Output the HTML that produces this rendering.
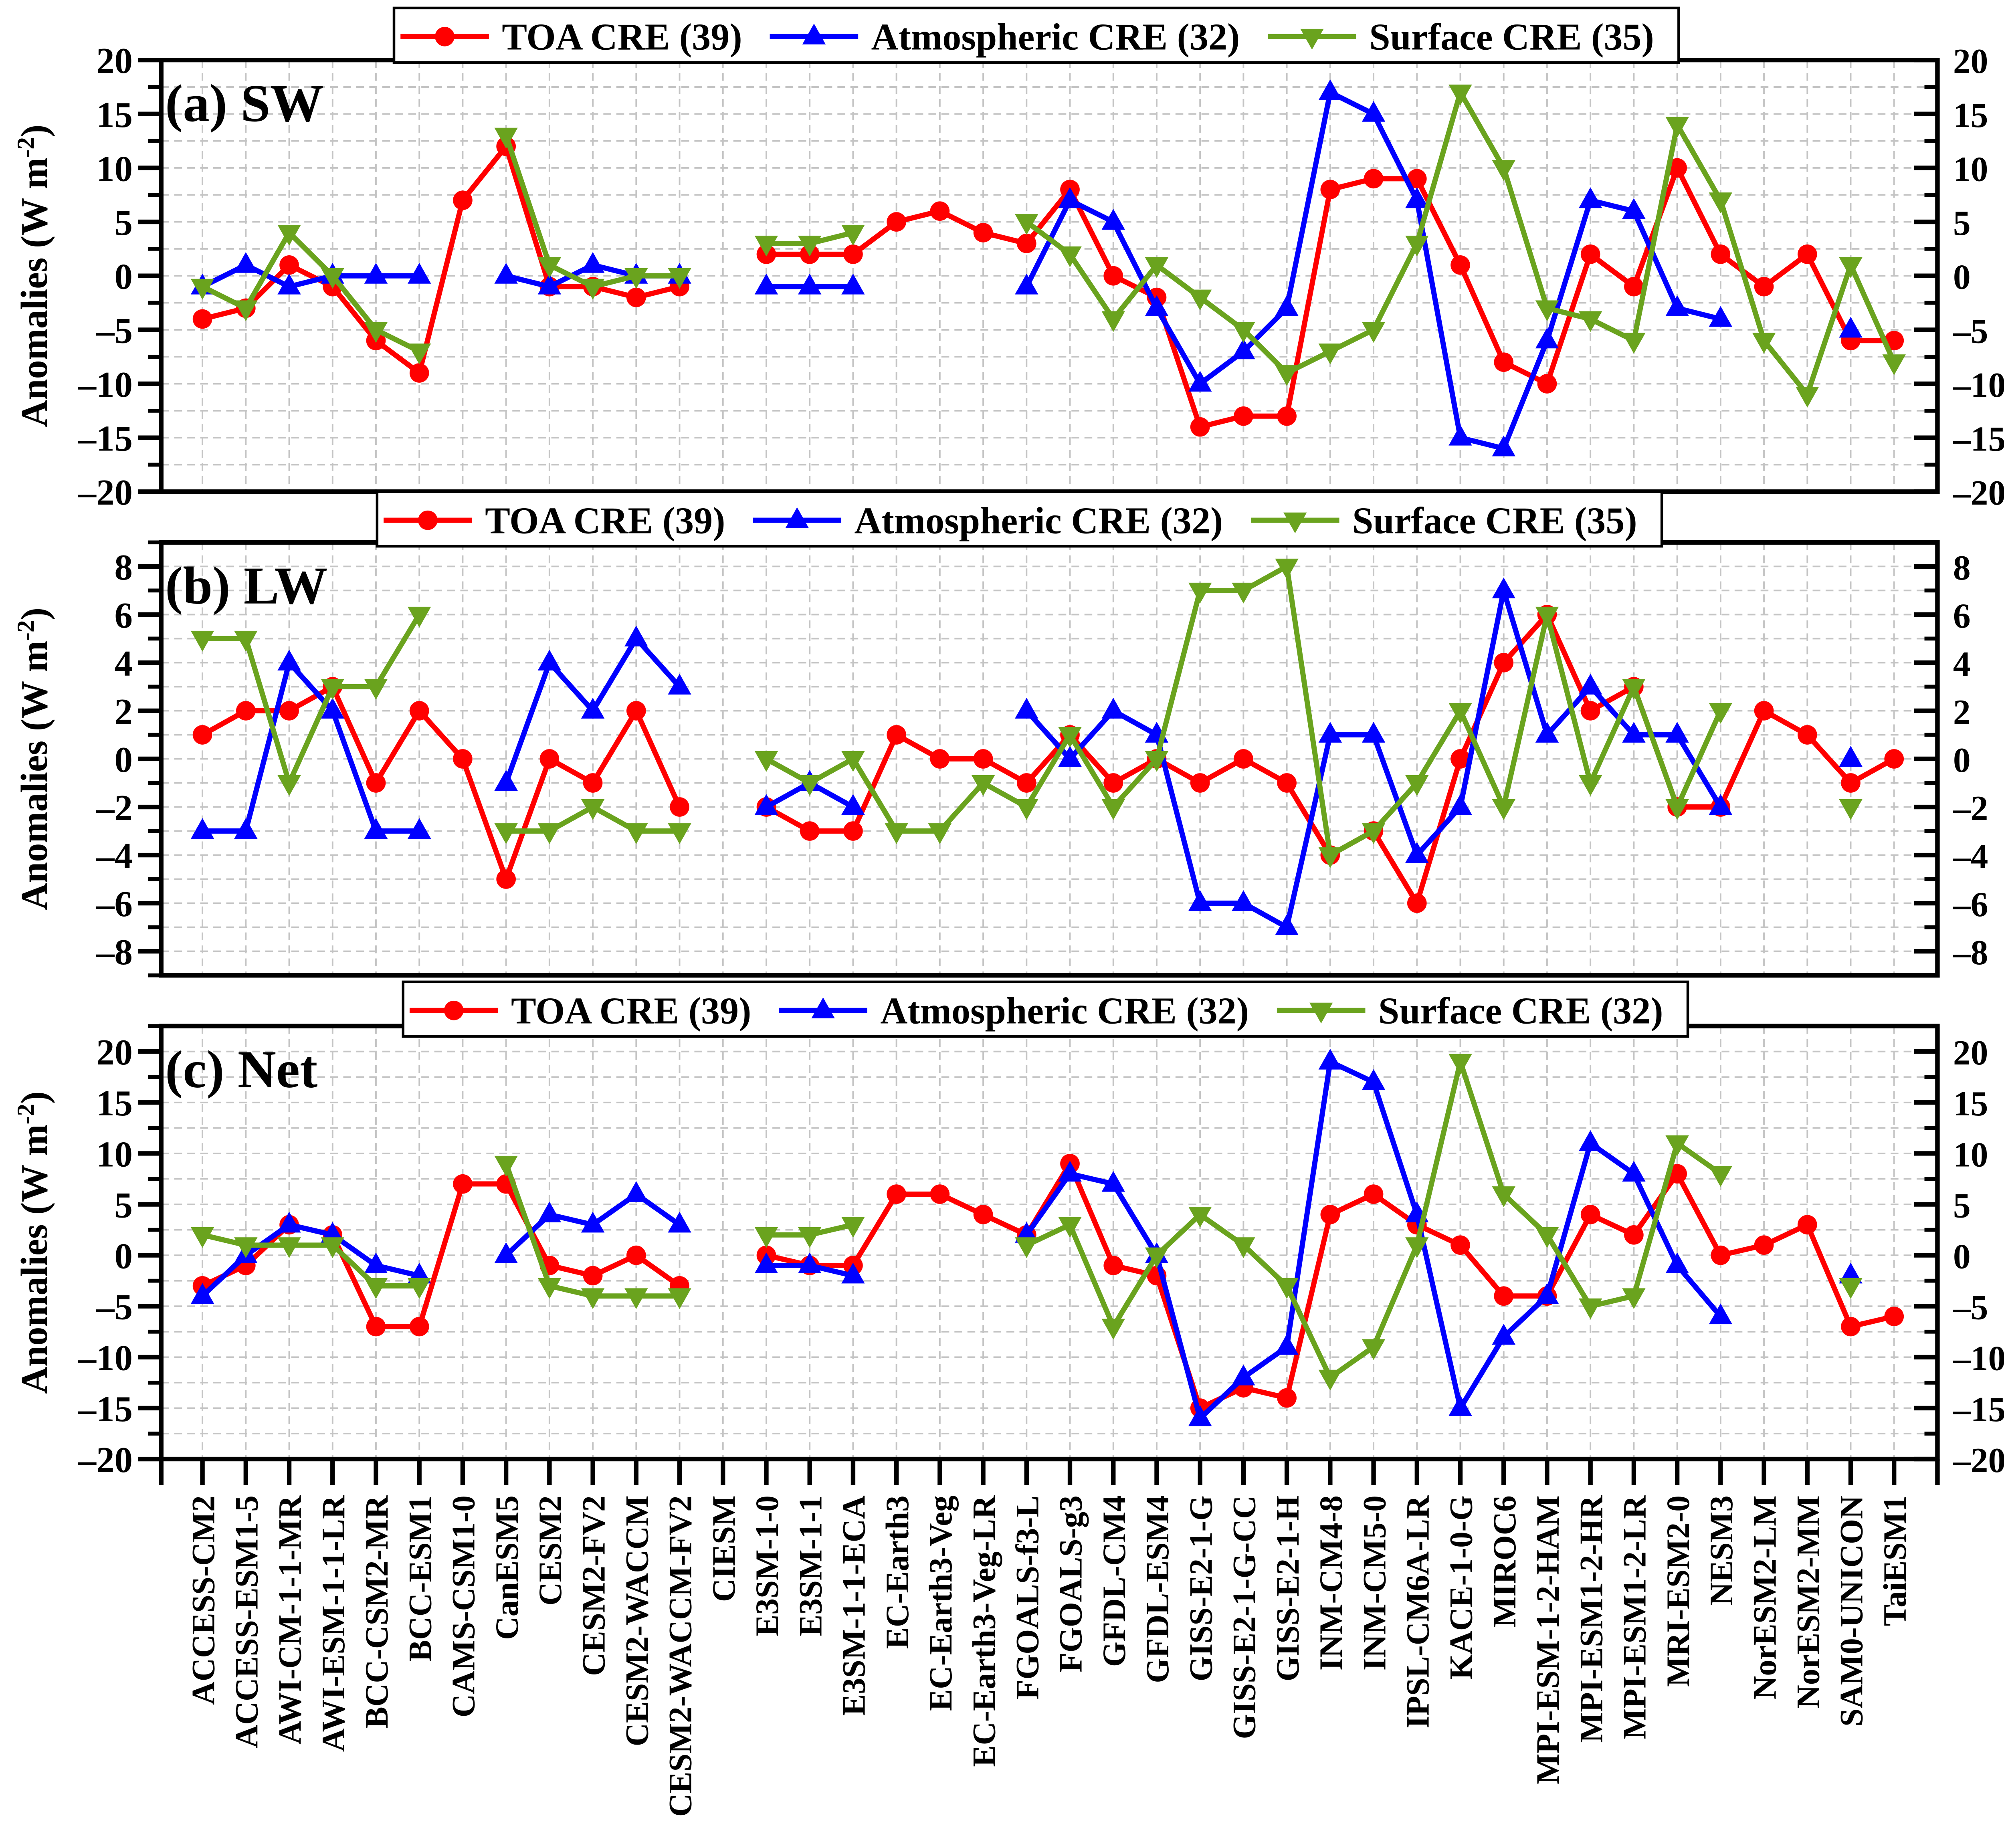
<!DOCTYPE html>
<html><head><meta charset="utf-8"><style>html,body{margin:0;padding:0;background:#fff;overflow:hidden}svg{display:block}svg text{font-family:"Liberation Serif","Times New Roman",serif;font-weight:bold}</style></head>
<body>
<svg id="chart" xmlns="http://www.w3.org/2000/svg" width="5087" height="4611" viewBox="0 0 1568 1421"></svg>
<script>
const models=["ACCESS-CM2","ACCESS-ESM1-5","AWI-CM-1-1-MR","AWI-ESM-1-1-LR","BCC-CSM2-MR","BCC-ESM1","CAMS-CSM1-0","CanESM5","CESM2","CESM2-FV2","CESM2-WACCM","CESM2-WACCM-FV2","CIESM","E3SM-1-0","E3SM-1-1","E3SM-1-1-ECA","EC-Earth3","EC-Earth3-Veg","EC-Earth3-Veg-LR","FGOALS-f3-L","FGOALS-g3","GFDL-CM4","GFDL-ESM4","GISS-E2-1-G","GISS-E2-1-G-CC","GISS-E2-1-H","INM-CM4-8","INM-CM5-0","IPSL-CM6A-LR","KACE-1-0-G","MIROC6","MPI-ESM-1-2-HAM","MPI-ESM1-2-HR","MPI-ESM1-2-LR","MRI-ESM2-0","NESM3","NorESM2-LM","NorESM2-MM","SAM0-UNICON","TaiESM1"];
const n=null;
const swToa=[-4,-3,1,-1,-6,-9,7,12,-1,-1,-2,-1,n,2,2,2,5,6,4,3,8,0,-2,-14,-13,-13,8,9,9,1,-8,-10,2,-1,10,2,-1,2,-6,-6];
const swAtm=[-1,1,-1,0,0,0,n,0,-1,1,0,0,n,-1,-1,-1,n,n,n,-1,7,5,-3,-10,-7,-3,17,15,7,-15,-16,-6,7,6,-3,-4,n,n,-5,n];
const swSfc=[-1,-3,4,0,-5,-7,n,13,1,-1,0,0,n,3,3,4,n,n,n,5,2,-4,1,-2,-5,-9,-7,-5,3,17,10,-3,-4,-6,14,7,-6,-11,1,-8];
const lwToa=[1,2,2,3,-1,2,0,-5,0,-1,2,-2,n,-2,-3,-3,1,0,0,-1,1,-1,0,-1,0,-1,-4,-3,-6,0,4,6,2,3,-2,-2,2,1,-1,0];
const lwAtm=[-3,-3,4,2,-3,-3,n,-1,4,2,5,3,n,-2,-1,-2,n,n,n,2,0,2,1,-6,-6,-7,1,1,-4,-2,7,1,3,1,1,-2,n,n,0,n];
const lwSfc=[5,5,-1,3,3,6,n,-3,-3,-2,-3,-3,n,0,-1,0,-3,-3,-1,-2,1,-2,0,7,7,8,-4,-3,-1,2,-2,6,-1,3,-2,2,n,n,-2,n];
const netToa=[-3,-1,3,2,-7,-7,7,7,-1,-2,0,-3,n,0,-1,-1,6,6,4,2,9,-1,-2,-15,-13,-14,4,6,3,1,-4,-4,4,2,8,0,1,3,-7,-6];
const netAtm=[-4,0,3,2,-1,-2,n,0,4,3,6,3,n,-1,-1,-2,n,n,n,2,8,7,0,-16,-12,-9,19,17,4,-15,-8,-4,11,8,-1,-6,n,n,-2,n];
const netSfc=[2,1,1,1,-3,-3,n,9,-3,-4,-4,-4,n,2,2,3,n,n,n,1,3,-7,0,4,1,-3,-12,-9,1,19,6,2,-5,-4,11,8,n,n,-3,n];
const ticksA=[-20,-15,-10,-5,0,5,10,15,20];
const ticksB=[-8,-6,-4,-2,0,2,4,6,8];
const ticksC=[-20,-15,-10,-5,0,5,10,15,20];
const legA=["TOA CRE (39)","Atmospheric CRE (32)","Surface CRE (35)"];
const legB=["TOA CRE (39)","Atmospheric CRE (32)","Surface CRE (35)"];
const legC=["TOA CRE (39)","Atmospheric CRE (32)","Surface CRE (32)"];

const svg=document.getElementById('chart');
const NS='http://www.w3.org/2000/svg';
const FF='Liberation Serif, serif';
function mk(tag,attrs,parent,text){const e=document.createElementNS(NS,tag);for(const k in attrs)e.setAttribute(k,attrs[k]);if(tag==='text'){e.setAttribute('font-family',FF);e.setAttribute('font-weight','bold');}if(text!==undefined)e.textContent=text;(parent||svg).appendChild(e);return e;}
const X0=124,X1=1490;
const xmin=-0.95,xmax=40.0;
function xs(i){return X0+(i-xmin)/(xmax-xmin)*(X1-X0);}
const RED='#ff0000',BLUE='#0000ff',GREEN='#6aa31e';
function fmt(v){return v<0?'\u2013'+(-v):String(v);}

function marker(type,x,y,color,g){
  if(type==='c'){return mk('circle',{cx:x,cy:y,r:7.5,fill:color},g);}
  if(type==='u'){return mk('polygon',{points:`${x},${y-10} ${x-9},${y+6} ${x+9},${y+6}`,fill:color},g);}
  return mk('polygon',{points:`${x},${y+10} ${x-9},${y-6} ${x+9},${y-6}`,fill:color},g);
}

function panel(opts){
  const {id,top,bot,ymin,ymax,ticks,minorStep,label,series,leg,legX,legY}=opts;
  const g=mk('g',{});
  
  
  const ys=v=>bot-(v-ymin)/(ymax-ymin)*(bot-top);
  const grid=mk('g',{stroke:'#c4c4c4','stroke-width':1.2,'stroke-dasharray':'6,4'},g);
  
  
  for(let i=0;i<models.length;i++) mk('line',{x1:xs(i),x2:xs(i),y1:top,y2:bot},grid);
  for(let v=Math.ceil(ymin/minorStep)*minorStep;v<=ymax;v+=minorStep) mk('line',{x1:X0,x2:X1,y1:ys(v),y2:ys(v)},grid);
  const tg=mk('g',{stroke:'#000'},g);
  
  
  for(let v=Math.ceil(ymin/minorStep)*minorStep;v<=ymax+1e-9;v+=minorStep){
    const major=ticks.includes(Math.round(v*100)/100);
    const L=major?18:10;
    mk('line',{x1:X0-L,x2:X0,y1:ys(v),y2:ys(v),'stroke-width':major?3.5:3},tg);
    mk('line',{x1:X1-L,x2:X1,y1:ys(v),y2:ys(v),'stroke-width':major?3.5:3},tg);
  }
  ticks.forEach(v=>{
    const t=mk('text',{x:X0-22,y:ys(v)+10,'text-anchor':'end','font-size':28},g,fmt(v));
    
    
    const t2=mk('text',{x:X1+12,y:ys(v)+10,'text-anchor':'start','font-size':27},g,fmt(v));
    
    
  });
  series.forEach(s=>{
    const sg=mk('g',{},g);
    
    
    let d='';let pen=false;
    s.data.forEach((v,i)=>{if(v===null){pen=false;return;}d+=(pen?'L':'M')+xs(i).toFixed(1)+','+ys(v).toFixed(1);pen=true;});
    mk('path',{d:d,fill:'none',stroke:s.color,'stroke-width':4,'stroke-linejoin':'round'},sg);
    s.data.forEach((v,i)=>{if(v===null)return;const m=marker(s.mk,xs(i),ys(v),s.color,sg);
      
      });
  });
  const fr=mk('rect',{x:X0,y:top,width:X1-X0,height:bot-top,fill:'none',stroke:'#000','stroke-width':3.5},g);
  
  
  const pl=mk('text',{x:127,y:top+47,'font-size':41},g,label);
  
  
  const yt=mk('text',{transform:`translate(36,${(top+bot)/2}) rotate(-90)`,'text-anchor':'middle','font-size':29},g);
  
  
  yt.innerHTML='Anomalies (W m<tspan dy="-10" font-size="19">-2</tspan><tspan dy="10">)</tspan>';
  const lg=mk('g',{},g);
  
  
  mk('rect',{x:legX,y:legY,width:988,height:42,fill:'#fff',stroke:'#000','stroke-width':2},lg);
  const offs=[5,289,672];
  series.forEach((s,k)=>{
    const ex=mk('g',{},lg);
    
    
    const bx=legX+offs[k],cy=legY+22;
    mk('line',{x1:bx,x2:bx+68,y1:cy,y2:cy,stroke:s.color,'stroke-width':4},ex);
    marker(s.mk,bx+34,cy,s.color,ex);
    mk('text',{x:bx+78,y:cy+10,'font-size':29},ex,leg[k]);
  });
  return ys;
}
function S(a,b,c){return [{name:'toa',data:a,color:RED,mk:'c'},{name:'atmospheric',data:b,color:BLUE,mk:'u'},{name:'surface',data:c,color:GREEN,mk:'d'}];}
panel({id:'sw',top:46,bot:378,ymin:-20,ymax:20,ticks:ticksA,minorStep:2.5,label:'(a) SW',series:S(swToa,swAtm,swSfc),leg:legA,legX:303,legY:6});
panel({id:'lw',top:417,bot:750,ymin:-9,ymax:9,ticks:ticksB,minorStep:1,label:'(b) LW',series:S(lwToa,lwAtm,lwSfc),leg:legB,legX:290,legY:378});
panel({id:'net',top:789,bot:1122,ymin:-20,ymax:22.5,ticks:ticksC,minorStep:2.5,label:'(c) Net',series:S(netToa,netAtm,netSfc),leg:legC,legX:310,legY:755});
const xg=mk('g',{});


models.forEach((m,i)=>{
  mk('line',{x1:xs(i),x2:xs(i),y1:1122,y2:1142,stroke:'#000','stroke-width':3.5},xg);
  const t=mk('text',{transform:`translate(${xs(i)+9},1150) rotate(-90)`,'text-anchor':'end','font-size':25},xg,m);
  
  
});
mk('line',{x1:X0,x2:X0,y1:1122,y2:1142,stroke:'#000','stroke-width':3.5},xg);
mk('line',{x1:X1,x2:X1,y1:1122,y2:1142,stroke:'#000','stroke-width':3.5},xg);
</script>
</body></html>
